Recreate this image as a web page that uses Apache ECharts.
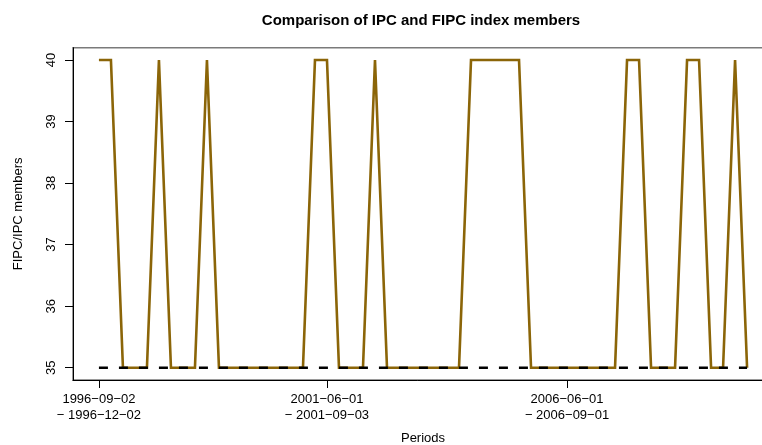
<!DOCTYPE html>
<html><head><meta charset="utf-8">
<script src="https://cdn.jsdelivr.net/npm/echarts@6/dist/echarts.min.js"></script>
<style>html,body{margin:0;padding:0;background:#fff;overflow:hidden}#c{width:762px;height:445px}</style>
</head><body><div id="c"></div>
<script>
// Period start dates (period i runs from periodStarts[i] to periodStarts[i+1])
const periodStarts = [
 "1996-09-02","1996-12-02",
 "1997-03-03","1997-06-02","1997-09-01","1997-12-01",
 "1998-03-02","1998-06-01","1998-09-01","1998-12-01",
 "1999-03-01","1999-06-01","1999-09-01","1999-12-01",
 "2000-03-01","2000-06-01","2000-09-01","2000-12-01",
 "2001-03-01","2001-06-01","2001-09-03","2001-12-03",
 "2002-03-01","2002-06-03","2002-09-02","2002-12-02",
 "2003-03-03","2003-06-02","2003-09-01","2003-12-01",
 "2004-03-01","2004-06-01","2004-09-01","2004-12-01",
 "2005-03-01","2005-06-01","2005-09-01","2005-12-01",
 "2006-03-01","2006-06-01","2006-09-01","2006-12-01",
 "2007-03-01","2007-06-01","2007-09-03","2007-12-03",
 "2008-03-03","2008-06-02","2008-09-01","2008-12-01",
 "2009-03-02","2009-06-01","2009-09-01","2009-12-01",
 "2010-03-01","2010-06-01"
];
const fipcMembers = [
 40,40,35,35,35,40,35,35,35,40,
 35,35,35,35,35,35,35,35,40,40,
 35,35,35,40,35,35,35,35,35,35,
 35,40,40,40,40,40,35,35,35,35,
 35,35,35,35,40,40,35,35,35,40,
 40,35,35,40,35
];
const ipcMembers = [
 35,35,35,35,35,35,35,35,35,35,
 35,35,35,35,35,35,35,35,35,35,
 35,35,35,35,35,35,35,35,35,35,
 35,35,35,35,35,35,35,35,35,35,
 35,35,35,35,35,35,35,35,35,35,
 35,35,35,35,35
];
const xTickIdx = [0, 19, 39];
const yTicks = [35, 36, 37, 38, 39, 40];

const periodLabel = i => (periodStarts[i] + "\n\u2212 " + periodStarts[i+1]).replace(/-/g, "\u2212");
const n = fipcMembers.length;
const pad = (n - 1) * 0.04;

const chart = echarts.init(document.getElementById('c'), null, {renderer: 'canvas'});
const font = '"Liberation Sans", Arial, Helvetica, sans-serif';
chart.setOption({
  animation: false,
  backgroundColor: '#fff',
  textStyle: {fontFamily: font},
  title: {
    text: 'Comparison of IPC and FIPC index members',
    left: 416, textAlign: 'center', top: 8,
    textStyle: {fontFamily: font, fontSize: 15, fontWeight: 'bold', color: '#000'}
  },
  grid: {left: 73, top: 47.7, width: 700, height: 332.3, outerBoundsMode: 'none', containLabel: false,
         show: true, borderColor: '#7a7a7a', borderWidth: 1.5, backgroundColor: 'transparent'},
  xAxis: {
    type: 'value', min: -pad, max: (n - 1) + pad,
    name: 'Periods', nameLocation: 'middle', nameGap: 52,
    nameTextStyle: {fontFamily: font, fontSize: 13, color: '#000'},
    axisLine: {show: true, onZero: false, lineStyle: {color: '#000', width: 1}},
    axisTick: {show: true, customValues: xTickIdx, length: 8, lineStyle: {color: '#000'}},
    axisLabel: {customValues: xTickIdx, formatter: v => periodLabel(Math.round(v)), fontFamily: font, fontSize: 13, color: '#000', lineHeight: 16, margin: 11},
    splitLine: {show: false}
  },
  yAxis: {
    type: 'value', min: 34.8, max: 40.2,
    name: 'FIPC/IPC members', nameLocation: 'middle', nameGap: 48,
    nameTextStyle: {fontFamily: font, fontSize: 13, color: '#000'},
    axisLine: {show: true, onZero: false, lineStyle: {color: '#000', width: 1}},
    axisTick: {show: true, customValues: yTicks, length: 8, lineStyle: {color: '#000'}},
    axisLabel: {customValues: yTicks, rotate: 90, fontFamily: font, fontSize: 13, color: '#000', margin: 15},
    splitLine: {show: false}
  },
  series: [
    {
      type: 'line', name: 'FIPC', symbol: 'none', clip: false,
      data: fipcMembers.map((v, i) => [i, v]),
      lineStyle: {color: '#8B6508', width: 2.6, join: 'miter'}
    },
    {
      type: 'line', name: 'IPC', symbol: 'none', clip: false,
      data: ipcMembers.map((v, i) => [i, v]),
      lineStyle: {color: '#000', width: 2.6, type: [9, 11], cap: 'butt'}
    }
  ]
});
</script></body></html>
